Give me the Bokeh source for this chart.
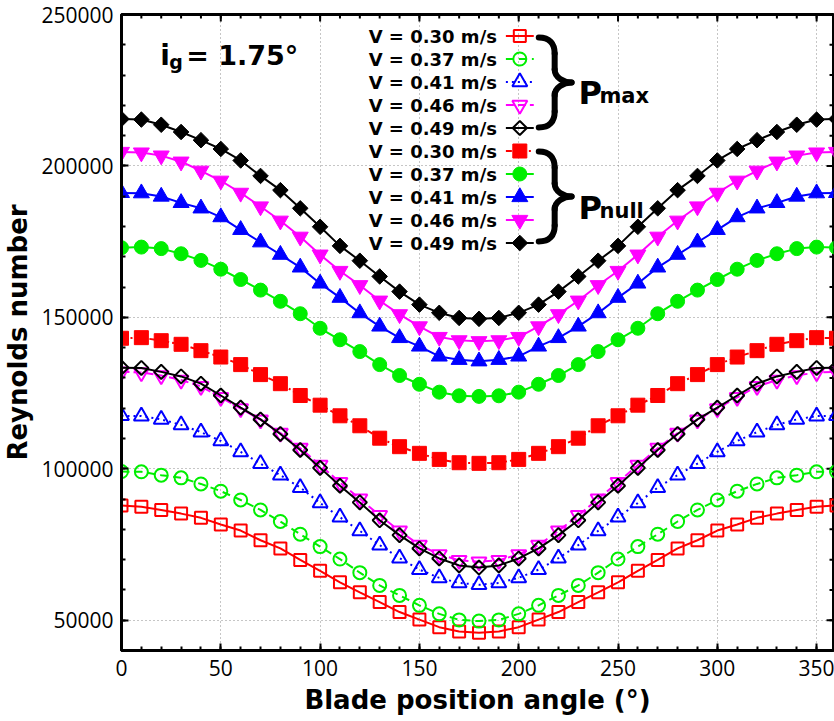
from bokeh.plotting import figure
from bokeh.models import Range1d, FixedTicker, Label, NumeralTickFormatter
from bokeh.embed import file_html
from bokeh.resources import INLINE
from math import pi

# ---------------- data ----------------
angle = list(range(0, 361, 10))

# P_max (open markers)
pmax_030 = [87900, 87500, 86400, 85200, 83800, 81600, 79600, 76400, 73700, 69900, 66300, 62500, 59200,
            56000, 52700, 50200, 47700, 46300, 45900,
            46300, 47700, 50200, 52700, 56000, 59200, 62500, 66300, 69900, 73700, 76400, 79600, 81600,
            83800, 85200, 86400, 87500, 87900]
pmax_037 = [99100, 99000, 97900, 97000, 95000, 92600, 89700, 86400, 82600, 78400, 74300, 70200, 65700,
            61500, 58200, 54900, 52100, 50100, 49700,
            50100, 52100, 54900, 58200, 61500, 65700, 70200, 74300, 78400, 82600, 86400, 89700, 92600,
            95000, 97000, 97900, 99000, 99100]
pmax_041 = [117500, 117400, 116300, 114500, 112100, 109200, 105600, 101700, 97900, 93800, 88700, 84000,
            79500, 74800, 70500, 66700, 64000, 62300, 61700,
            62300, 64000, 66700, 70500, 74800, 79500, 84000, 88700, 93800, 97900, 101700, 105600, 109200,
            112100, 114500, 116300, 117400, 117500]
pmax_046 = [132000, 131800, 130800, 129300, 127200, 123600, 119900, 116200, 111800, 106800, 101200, 95500,
            90100, 84600, 79500, 74800, 71700, 69800, 69300,
            69800, 71700, 74800, 79500, 84600, 90100, 95500, 101200, 106800, 111800, 116200, 119900, 123600,
            127200, 129300, 130800, 131800, 132000]
pmax_049 = [133400, 133300, 132000, 130500, 128100, 124200, 120200, 116300, 111500, 106200, 100300, 94400,
            88900, 83000, 78100, 73700, 70400, 68100, 67400,
            68100, 70400, 73700, 78100, 83000, 88900, 94400, 100300, 106200, 111500, 116300, 120200, 124200,
            128100, 130500, 132000, 133300, 133400]

# P_null (filled markers)
pnull_030 = [143100, 143300, 142300, 141100, 139000, 136900, 134400, 131100, 128100, 124200, 121000, 117500,
             114200, 110100, 107300, 105100, 103100, 102000, 101800,
             102000, 103100, 105100, 107300, 110100, 114200, 117500, 121000, 124200, 128100, 131100, 134400,
             136900, 139000, 141100, 142300, 143300, 143100]
pnull_037 = [173000, 173200, 172700, 171000, 168800, 165900, 162500, 159000, 155300, 151200, 146400, 142600,
             138700, 134400, 130800, 127900, 125300, 124100, 123900,
             124100, 125300, 127900, 130800, 134400, 138700, 142600, 146400, 151200, 155300, 159000, 162500,
             165900, 168800, 171000, 172700, 173200, 173000]
pnull_041 = [191100, 191000, 189900, 187800, 186000, 183100, 178900, 174800, 170700, 166500, 161200, 156500,
             151400, 147000, 143200, 140400, 137100, 136000, 135500,
             136000, 137100, 140400, 143200, 147000, 151400, 156500, 161200, 166500, 170700, 174800, 178900,
             183100, 186000, 187800, 189900, 191000, 191100]
pnull_046 = [204600, 204400, 203400, 201400, 198400, 195100, 191100, 186600, 181900, 176600, 170700, 165300,
             160600, 155500, 151000, 147000, 143500, 142400, 142100,
             142400, 143500, 147000, 151000, 155500, 160600, 165300, 170700, 176600, 181900, 186600, 191100,
             195100, 198400, 201400, 203400, 204400, 204600]
pnull_049 = [215500, 215300, 213600, 211200, 208500, 205600, 201800, 196700, 192000, 186000, 179900, 173600,
             168700, 163500, 158500, 154200, 151500, 149800, 149500,
             149800, 151500, 154200, 158500, 163500, 168700, 173600, 179900, 186000, 192000, 196700, 201800,
             205600, 208500, 211200, 213600, 215300, 215500]

legend_labels = ["V = 0.30 m/s", "V = 0.37 m/s", "V = 0.41 m/s", "V = 0.46 m/s", "V = 0.49 m/s"]
x_ticks = [0, 50, 100, 150, 200, 250, 300, 350]
x_minor = list(range(0, 361, 10))
y_ticks = [50000, 100000, 150000, 200000, 250000]
y_minor = list(range(40000, 250001, 10000))

# ---------------- figure ----------------
W, H = 834, 721
FL, FR, FT, FB = 118, 833, 14, 650
XMIN, XMAX = 0, 358.5
YMIN, YMAX = 40000, 250000
DX = (XMAX - XMIN) / (FR - FL)   # data per pixel
DY = (YMAX - YMIN) / (FB - FT)

def X(px):
    return XMIN + (px - FL) * DX

def Y(py):
    return YMIN + (FB - py) * DY

p = figure(width=W, height=H, output_backend="svg", toolbar_location=None,
           x_range=Range1d(XMIN, XMAX), y_range=Range1d(YMIN, YMAX),
           min_border_left=FL, min_border_right=W - FR, min_border_top=FT, min_border_bottom=H - FB)
p.background_fill_color = "white"
p.border_fill_color = "white"
p.outline_line_color = "black"
p.outline_line_width = 3

xt = FixedTicker(ticks=x_ticks, minor_ticks=x_minor)
yt = FixedTicker(ticks=y_ticks, minor_ticks=y_minor)

TICK_FONT = "Open Sans"
BOLD_FONT = "DejaVu Sans"

for ax in (p.xaxis[0], p.yaxis[0]):
    ax.axis_line_width = 3
    ax.major_tick_in = 7
    ax.major_tick_out = 0
    ax.minor_tick_in = 4
    ax.minor_tick_out = 0
    ax.major_tick_line_width = 2
    ax.minor_tick_line_width = 2
    ax.major_label_text_font = TICK_FONT
    ax.major_label_text_font_size = "21px"
    ax.major_label_text_color = "black"
    ax.axis_label_text_font = BOLD_FONT
    ax.axis_label_text_font_style = "bold"
    ax.axis_label_text_font_size = "26px"
    ax.axis_label_text_color = "black"

p.xaxis[0].ticker = xt
p.yaxis[0].ticker = yt
p.yaxis[0].formatter = NumeralTickFormatter(format="0")
p.xaxis[0].axis_label = "Blade position angle (°)"
p.yaxis[0].axis_label = "Reynolds number"
p.xaxis[0].major_label_standoff = 9
p.xaxis[0].axis_label_standoff = 6
p.yaxis[0].major_label_standoff = 8
p.yaxis[0].axis_label_standoff = 5

# mirrored ticks on the top and right borders
p.segment(x0=x_ticks, y0=[YMAX] * len(x_ticks), x1=x_ticks, y1=[YMAX - 7 * DY] * len(x_ticks),
          line_color="black", line_width=2)
p.segment(x0=x_minor, y0=[YMAX] * len(x_minor), x1=x_minor, y1=[YMAX - 4 * DY] * len(x_minor),
          line_color="black", line_width=2)
p.segment(x0=[XMAX] * len(y_ticks), y0=y_ticks, x1=[XMAX - 7 * DX] * len(y_ticks), y1=y_ticks,
          line_color="black", line_width=2)
p.segment(x0=[XMAX] * len(y_minor), y0=y_minor, x1=[XMAX - 4 * DX] * len(y_minor), y1=y_minor,
          line_color="black", line_width=2)

p.xgrid.ticker = xt
p.ygrid.ticker = yt
for g in (p.xgrid[0], p.ygrid[0]):
    g.grid_line_color = "#8c8c8c"
    g.grid_line_dash = "1 3"
    g.grid_line_width = 1

RED, GREEN, BLUE, MAG, BLK = "#ff0000", "#00ee00", "#0000ff", "#ff00ff", "#000000"

series = [
    # (values, color, marker, size, filled, dash, angle)
    (pmax_030, RED, "square", 12, False, "solid", 0),
    (pmax_037, GREEN, "circle", 13, False, "8 5", 0),
    (pmax_041, BLUE, "triangle", 15, False, "2 4", 0),
    (pmax_046, MAG, "inverted_triangle", 15, False, "8 4", 0),
    (pmax_049, BLK, "square", 10, False, "solid", pi / 4),
    (pnull_030, RED, "square", 14, True, "6 3 2 3", 0),
    (pnull_037, GREEN, "circle", 14, True, "solid", 0),
    (pnull_041, BLUE, "triangle", 16, True, "solid", 0),
    (pnull_046, MAG, "inverted_triangle", 16, True, "solid", 0),
    (pnull_049, BLK, "square", 11, True, "solid", pi / 4),
]

ROW0, PITCH = 35.5, 23
for i, (vals, col, mk, sz, filled, dash, ang) in enumerate(series):
    fc = col if filled else None
    lw = 1 if filled else 2
    p.line(angle, vals, line_color=col, line_width=2, line_dash=dash)
    p.scatter(angle, vals, marker=mk, size=sz, angle=ang, fill_color=fc, line_color=col, line_width=lw)
    # legend sample (text on the left, sample on the right)
    ry = Y(ROW0 + i * PITCH)
    p.line([X(504), X(532)], [ry, ry], line_color=col, line_width=2, line_dash=dash)
    p.scatter([X(518)], [ry], marker=mk, size=sz, angle=ang, fill_color=fc, line_color=col, line_width=lw)
    p.add_layout(Label(x=X(495), y=ry, text=legend_labels[i % 5],
                       text_align="right", text_baseline="middle", text_font=BOLD_FONT,
                       text_font_style="bold", text_font_size="18px", text_color="black"))

# braces
for ytop in (37, 151):
    xs0 = [537, 553, 553, 570, 553, 553]
    ys0 = [ytop, ytop + 16, ytop + 32, ytop + 45, ytop + 58, ytop + 74]
    xs1 = [553, 553, 570, 553, 553, 537]
    ys1 = [ytop + 16, ytop + 32, ytop + 45, ytop + 58, ytop + 74, ytop + 90]
    cx0 = [548, 553, 553, 562, 553, 553]
    cy0 = [ytop, ytop + 22, ytop + 40, ytop + 45, ytop + 50, ytop + 84]
    cx1 = [553, 553, 562, 553, 553, 548]
    cy1 = [ytop + 6, ytop + 26, ytop + 45, ytop + 50, ytop + 68, ytop + 90]
    p.bezier(x0=[X(v) for v in xs0], y0=[Y(v) for v in ys0], x1=[X(v) for v in xs1],
             y1=[Y(v) for v in ys1], cx0=[X(v) for v in cx0], cy0=[Y(v) for v in cy0],
             cx1=[X(v) for v in cx1], cy1=[Y(v) for v in cy1], line_color="black",
             line_width=6, line_cap="round")

def lab(px, py, txt, size, align="left"):
    p.add_layout(Label(x=X(px), y=Y(py), text=txt, text_align=align, text_baseline="alphabetic",
                       text_font=BOLD_FONT, text_font_style="bold", text_font_size=size,
                       text_color="black"))

lab(577, 92, "P", "32px")
lab(598, 95, "max", "21px")
lab(577, 207, "P", "32px")
lab(598, 210, "null", "21px")

lab(157, 55, "i", "28px")
lab(166, 61, "g", "19px")
lab(183, 55, "= 1.75°", "27px")

open("out.html", "w").write(file_html(p, INLINE))
